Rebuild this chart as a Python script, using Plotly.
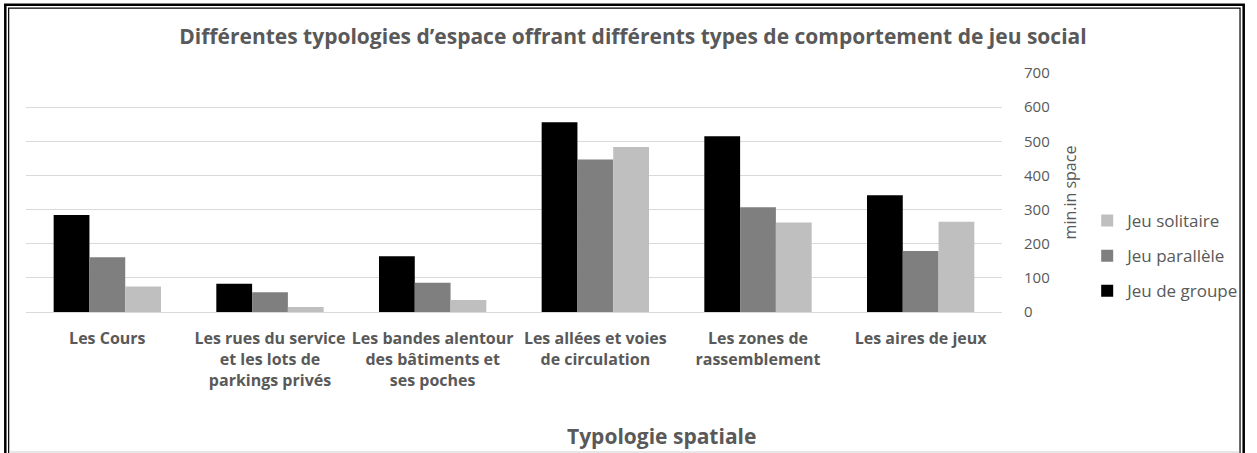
import plotly.graph_objects as go

categories = [
    "Les Cours",
    "Les rues du service<br>et les lots de<br>parkings privés",
    "Les bandes alentour<br>des bâtiments et<br>ses poches",
    "Les allées et voies<br>de circulation",
    "Les zones de<br>rassemblement",
    "Les aires de jeux",
]
jeu_groupe = [284, 83, 163, 556, 515, 342]
jeu_parallele = [160, 58, 86, 447, 307, 179]
jeu_solitaire = [75, 15, 35, 483, 262, 264]
y_ticks = [0, 100, 200, 300, 400, 500, 600, 700]

W, H = 1257, 453
L, R, T, B = 25.7, 1011, 73, 312

def px(x):
    return (x - L) / (R - L)

def py(y):
    return (B - y) / (B - T)

FONT = "Open Sans"
GRAY = "#595959"

fig = go.Figure()
series = [("Jeu de groupe", jeu_groupe, "#000000", 3),
          ("Jeu parallèle", jeu_parallele, "#7f7f7f", 2),
          ("Jeu solitaire", jeu_solitaire, "#bfbfbf", 1)]
for name, vals, col, rank in series:
    fig.add_trace(go.Bar(x=categories, y=vals, name=name, marker_color=col,
                         marker_line_width=0, legendgroup=name, legendrank=rank))

fig.update_layout(
    width=W, height=H,
    margin=dict(l=L, r=W - R, t=T, b=H - B, pad=0),
    paper_bgcolor="white", plot_bgcolor="white",
    font=dict(family=FONT, color=GRAY),
    barmode="group", bargap=0.34, bargroupgap=0,
    showlegend=True,
    legend=dict(traceorder="grouped", x=px(1097), y=py(203), xanchor="left", yanchor="top",
                font=dict(size=17, color=GRAY), tracegroupgap=10, itemwidth=30,
                bgcolor="rgba(0,0,0,0)"),
    title=dict(text="<b>Différentes typologies d’espace offrant différents types de comportement de jeu social</b>",
               x=633 / W, xanchor="center", y=1 - 37 / H, yanchor="middle",
               font=dict(size=21, color=GRAY, family=FONT)),
    xaxis=dict(tickfont=dict(size=16, color=GRAY, family=FONT), showgrid=False,
               showline=True, linecolor="#d9d9d9", linewidth=1, ticks="",
               tickprefix="<b>", ticksuffix="</b>", ticklabelstandoff=12),
    yaxis=dict(side="right", range=[0, 700], tickvals=y_ticks, showgrid=True,
               gridcolor="#d9d9d9", gridwidth=1, zeroline=False, showline=False,
               tickfont=dict(size=15, color=GRAY, family=FONT), ticks="", ticklabelstandoff=21,
               title=dict(text="min.in space", font=dict(size=16, color=GRAY, family=FONT), standoff=16)),
    annotations=[dict(text="<b>Typologie spatiale</b>", xref="paper", yref="paper",
                      x=px(667), y=py(436), xanchor="center", yanchor="middle", showarrow=False,
                      font=dict(size=21, color=GRAY, family=FONT))],
    shapes=[
        dict(type="rect", xref="paper", yref="paper", x0=px(4.8), x1=px(1255), y0=py(4.8), y1=py(470),
             line=dict(color="black", width=2.5)),
        dict(type="rect", xref="paper", yref="paper", x0=px(8.2), x1=px(1251.3), y0=py(8.2), y1=py(470),
             line=dict(color="black", width=1.2)),
        dict(type="line", xref="paper", yref="paper", x0=px(9), x1=px(1250.5), y0=py(452), y1=py(452),
             line=dict(color="#cfcfcf", width=1)),
    ],
)
fig.write_html("out.html", config={"displayModeBar": False},
               post_script="document.body.style.margin='0';document.body.style.overflow='hidden';")
